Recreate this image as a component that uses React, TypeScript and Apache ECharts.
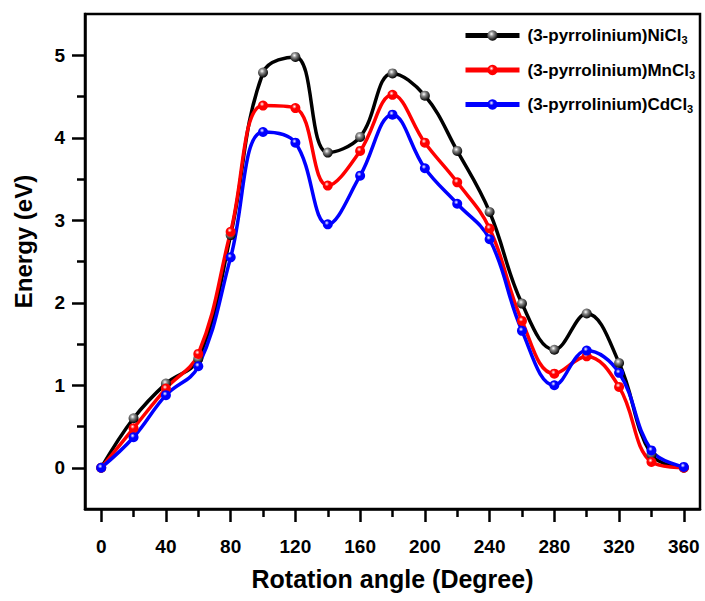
import React, { useEffect, useRef } from "react";
import * as echarts from "echarts";

const angles = [0, 20, 40, 60, 80, 100, 120, 140, 160, 180, 200, 220, 240, 260, 280, 300, 320, 340, 360];
const niCl3 = [0, 0.6, 1.02, 1.32, 2.82, 4.79, 4.98, 3.82, 4.01, 4.78, 4.51, 3.84, 3.1, 1.99, 1.43, 1.87, 1.27, 0.16, 0.0];
const mnCl3 = [0, 0.48, 0.96, 1.38, 2.86, 4.39, 4.36, 3.42, 3.84, 4.52, 3.94, 3.46, 2.9, 1.78, 1.14, 1.35, 0.98, 0.07, 0.0];
const cdCl3 = [0, 0.37, 0.88, 1.23, 2.55, 4.07, 3.94, 2.95, 3.54, 4.28, 3.63, 3.2, 2.77, 1.66, 1.0, 1.42, 1.15, 0.21, 0.01];
const seriesNames = ["(3-pyrrolinium)NiCl3", "(3-pyrrolinium)MnCl3", "(3-pyrrolinium)CdCl3"];
const seriesColors = ["#000000", "#ff0000", "#0000ff"];
const xMajorTicks = [0, 40, 80, 120, 160, 200, 240, 280, 320, 360];
const xMinorTicks = [20, 60, 100, 140, 180, 220, 260, 300, 340];
const yMajorTicks = [0, 1, 2, 3, 4, 5];
const yMinorTicks = [0.5, 1.5, 2.5, 3.5, 4.5];

const FONT = "'Liberation Sans', Arial, sans-serif";

function sphere(color: string) {
  return {
    type: "radial",
    x: 0.4,
    y: 0.35,
    r: 0.65,
    colorStops: [
      { offset: 0, color: "#ffffff" },
      { offset: 0.35, color: color === "#000000" ? "#888888" : color },
      { offset: 1, color: color },
    ],
  };
}

export default function App() {
  const ref = useRef<HTMLDivElement>(null);
  useEffect(() => {
    if (!ref.current) return;
    const chart = echarts.init(ref.current, null, { renderer: "svg" });
    const datasets = [niCl3, mnCl3, cdCl3];
    const axisLine = { show: true, onZero: false, lineStyle: { color: "#000", width: 2.5 } };
    const hiddenLine = { show: false, onZero: false };
    const tickStyle = { width: 2.5, color: "#000" };
    chart.setOption({
      animation: false,
      backgroundColor: "#fff",
      grid: {
        left: 85,
        right: 5,
        top: 14,
        bottom: 92,
        show: true,
        borderColor: "#000",
        borderWidth: 2.5,
        backgroundColor: "transparent",
      },
      legend: {
        orient: "vertical",
        left: 458,
        top: 22,
        itemWidth: 54,
        itemHeight: 13,
        itemGap: 16,
        data: seriesNames,
        lineStyle: { width: 5 },
        formatter: (name: string) => name.replace(/3$/, "{s|3}"),
        textStyle: {
          fontFamily: FONT,
          fontWeight: "bold",
          fontSize: 17,
          color: "#000",
          padding: [0, 0, 0, 3],
          rich: {
            s: { fontFamily: FONT, fontWeight: "bold", fontSize: 11, verticalAlign: "bottom", padding: [9, 0, 0, 0] },
          },
        },
      },
      xAxis: [
        {
          type: "value",
          min: -10,
          max: 370,
          axisLine,
          splitLine: { show: false },
          axisTick: { show: true, inside: false, length: 13, customValues: xMajorTicks, lineStyle: tickStyle },
          axisLabel: { customValues: xMajorTicks, margin: 28, fontFamily: FONT, fontWeight: "bold", fontSize: 19, color: "#000" },
          name: "Rotation angle (Degree)",
          nameLocation: "middle",
          nameGap: 57,
          nameTextStyle: { fontFamily: FONT, fontWeight: "bold", fontSize: 25, color: "#000" },
        },
        {
          type: "value",
          min: -10,
          max: 370,
          position: "bottom",
          axisLine: hiddenLine,
          splitLine: { show: false },
          axisTick: { show: true, length: 8, customValues: xMinorTicks, lineStyle: tickStyle },
          axisLabel: { show: false },
        },
      ],
      yAxis: [
        {
          type: "value",
          min: -0.5,
          max: 5.5,
          axisLine,
          splitLine: { show: false },
          axisTick: { show: true, length: 13, customValues: yMajorTicks, lineStyle: tickStyle },
          axisLabel: { customValues: yMajorTicks, margin: 20, fontFamily: FONT, fontWeight: "bold", fontSize: 19, color: "#000" },
          name: "Energy (eV)",
          nameLocation: "middle",
          nameGap: 50,
          nameTextStyle: { fontFamily: FONT, fontWeight: "bold", fontSize: 24, color: "#000", padding: [0, 0, 0, 40] },
        },
        {
          type: "value",
          min: -0.5,
          max: 5.5,
          position: "left",
          axisLine: hiddenLine,
          splitLine: { show: false },
          axisTick: { show: true, length: 8, customValues: yMinorTicks, lineStyle: tickStyle },
          axisLabel: { show: false },
        },
      ],
      series: seriesNames.map((name, i) => ({
        name,
        type: "line",
        xAxisIndex: 0,
        yAxisIndex: 0,
        smooth: 0.4,
        symbol: "circle",
        symbolSize: 10,
        lineStyle: { color: seriesColors[i], width: 3.5 },
        itemStyle: { color: sphere(seriesColors[i]) as any },
        data: angles.map((a, k) => [a, datasets[i][k]]),
      })),
    });
    return () => chart.dispose();
  }, []);
  return <div ref={ref} style={{ width: 705, height: 601, position: "absolute", left: 0, top: 0 }} />;
}
